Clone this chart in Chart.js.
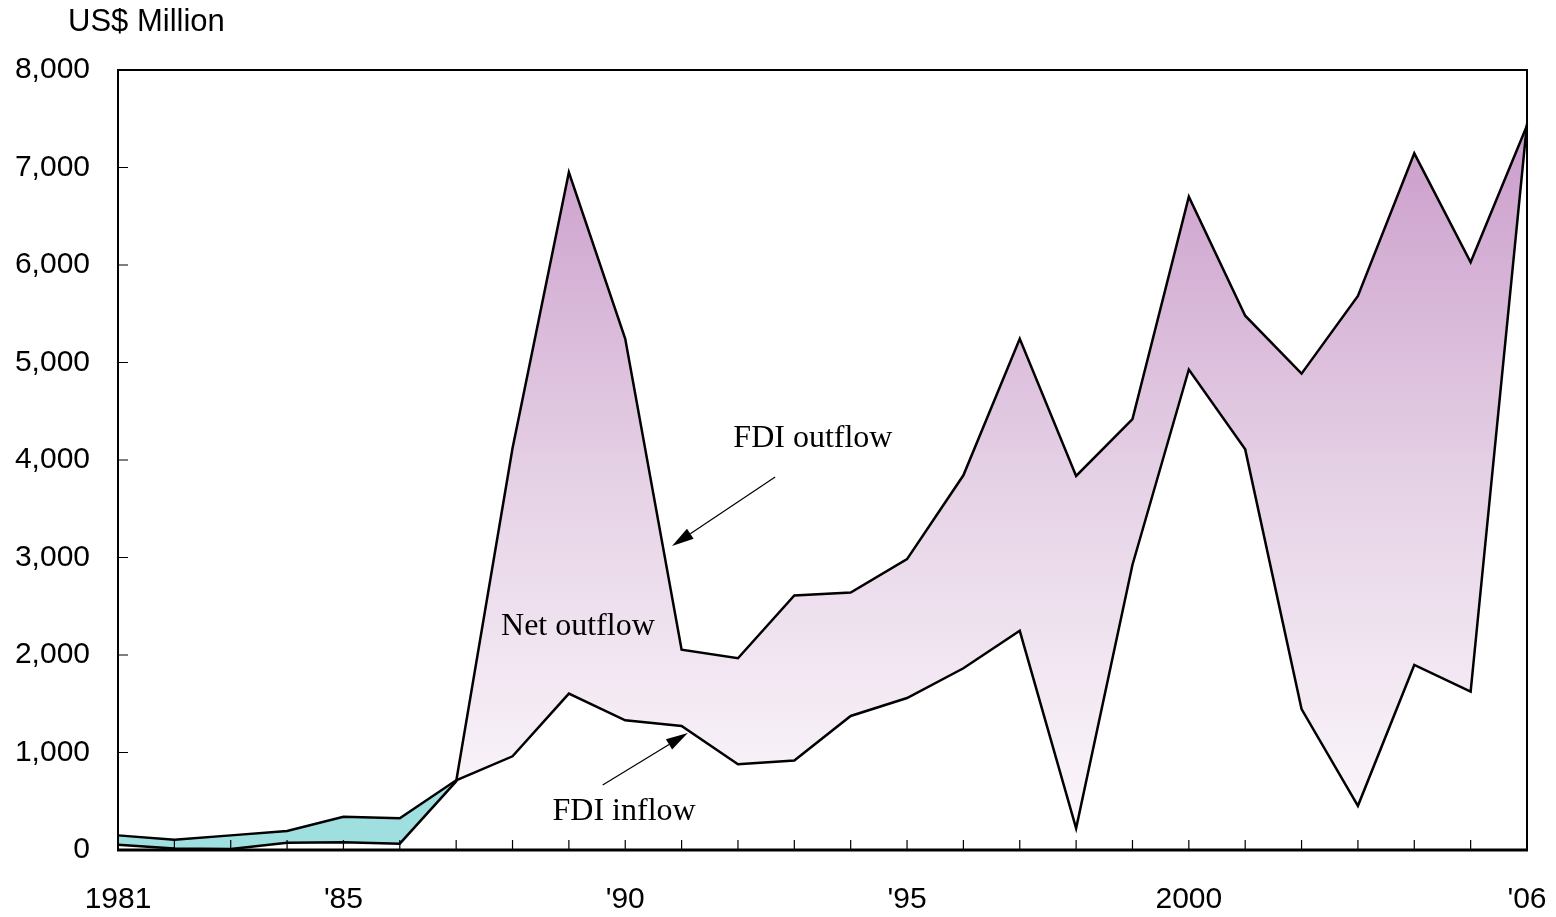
<!DOCTYPE html>
<html>
<head>
<meta charset="utf-8">
<script src="https://cdn.jsdelivr.net/npm/chart.js@4.4.1/dist/chart.umd.min.js"></script>
<style>
  html, body { margin: 0; padding: 0; background: #fff; }
  #wrap { width: 1556px; height: 917px; position: relative; }
</style>
</head>
<body>
<div id="wrap"><canvas id="fdiChart"></canvas></div>
<script>
const years = ["1981", "1982", "1983", "1984", "1985", "1986", "1987", "1988", "1989", "1990",
  "1991", "1992", "1993", "1994", "1995", "1996", "1997", "1998", "1999", "2000",
  "2001", "2002", "2003", "2004", "2005", "2006"];

const fdiOutflow = [55, 15, 10, 75, 80, 65, 704, 4121, 6951, 5243,
  2055, 1967, 2611, 2640, 2983, 3843, 5243, 3836, 4420, 6701,
  5480, 4886, 5682, 7145, 6028, 7430];

const fdiInflow = [150, 105, 150, 195, 340, 325, 715, 961, 1604, 1330,
  1271, 879, 917, 1375, 1559, 1864, 2248, 222, 2926, 4928,
  4109, 1445, 453, 1898, 1625, 7450];

const shownYears = ["1981", "1985", "1990", "1995", "2000", "2006"];
const shownLabels = ["1981", "'85", "'90", "'95", "2000", "'06"];

const yTicks = [0, 1000, 2000, 3000, 4000, 5000, 6000, 7000, 8000];

// annotation spots, in data units (x = year index, y = US$ million)
const notes = [
  { text: "FDI outflow", x: 12.33, y: 4215 },
  { text: "Net outflow", x: 8.16, y: 2287 },
  { text: "FDI inflow", x: 8.98, y: 390 },
];
const arrows = [
  { from: [11.66, 3826], to: [9.83, 3118] },
  { from: [8.6, 667], to: [10.11, 1200] },
];

const sansFont = "'Liberation Sans', Arial, sans-serif";
const serifFont = "'Liberation Serif', 'Times New Roman', serif";

function purpleFill(context) {
  const { chart } = context;
  const area = chart.chartArea;
  if (!area) return "#ddc0dd";
  const g = chart.ctx.createLinearGradient(0, area.top + 60, 0, area.bottom);
  g.addColorStop(0, "#cb9dcb");
  g.addColorStop(0.5, "#e6d3e6");
  g.addColorStop(1, "#fdfafd");
  return g;
}

const framePlugin = {
  id: "frame",
  afterDraw(chart) {
    const { ctx, chartArea: a, scales } = chart;
    ctx.save();
    ctx.strokeStyle = "#000";
    ctx.lineWidth = 2;
    ctx.strokeRect(a.left, a.top, a.right - a.left, a.bottom - a.top);
    ctx.lineWidth = 3;
    ctx.beginPath();
    ctx.moveTo(a.left - 1, a.bottom);
    ctx.lineTo(a.right + 1, a.bottom);
    ctx.stroke();

    // inward tick marks
    ctx.lineWidth = 1.2;
    ctx.beginPath();
    years.forEach((y, i) => {
      const px = scales.x.getPixelForValue(i);
      ctx.moveTo(px, a.bottom);
      ctx.lineTo(px, a.bottom - 10);
    });
    yTicks.forEach((v) => {
      const py = scales.y.getPixelForValue(v);
      ctx.moveTo(a.left, py);
      ctx.lineTo(a.left + 10, py);
    });
    ctx.stroke();

    // unit label
    ctx.fillStyle = "#000";
    ctx.font = "31px " + sansFont;
    ctx.textAlign = "left";
    ctx.textBaseline = "middle";
    ctx.fillText("US$ Million", 68, 22);

    // annotations
    ctx.font = "32px " + serifFont;
    ctx.textAlign = "center";
    notes.forEach((n) => {
      ctx.fillText(n.text, scales.x.getPixelForValue(n.x), scales.y.getPixelForValue(n.y));
    });

    arrows.forEach((ar) => {
      const x1 = scales.x.getPixelForValue(ar.from[0]);
      const y1 = scales.y.getPixelForValue(ar.from[1]);
      const x2 = scales.x.getPixelForValue(ar.to[0]);
      const y2 = scales.y.getPixelForValue(ar.to[1]);
      const ang = Math.atan2(y2 - y1, x2 - x1);
      const len = 22;
      const half = 6;
      const bx = x2 - len * Math.cos(ang);
      const by = y2 - len * Math.sin(ang);
      ctx.lineWidth = 1.2;
      ctx.beginPath();
      ctx.moveTo(x1, y1);
      ctx.lineTo(bx, by);
      ctx.stroke();
      ctx.beginPath();
      ctx.moveTo(x2, y2);
      ctx.lineTo(bx + half * Math.sin(ang), by - half * Math.cos(ang));
      ctx.lineTo(bx - half * Math.sin(ang), by + half * Math.cos(ang));
      ctx.closePath();
      ctx.fill();
    });
    ctx.restore();
  },
};

new Chart(document.getElementById("fdiChart"), {
  type: "line",
  data: {
    labels: years,
    datasets: [
      {
        label: "FDI outflow",
        data: fdiOutflow,
        borderColor: "#000",
        borderWidth: 2.5,
        pointRadius: 0,
        tension: 0,
        fill: { target: 1, above: purpleFill, below: "#a0dfdf" },
      },
      {
        label: "FDI inflow",
        data: fdiInflow,
        borderColor: "#000",
        borderWidth: 2.5,
        pointRadius: 0,
        tension: 0,
        fill: false,
      },
    ],
  },
  options: {
    responsive: true,
    maintainAspectRatio: false,
    animation: false,
    layout: { padding: { top: 70, right: 29, left: 0, bottom: 0 } },
    plugins: {
      legend: { display: false },
      tooltip: { enabled: false },
      filler: { drawTime: "beforeDatasetsDraw" },
    },
    scales: {
      x: {
        offset: false,
        grid: { display: false, drawTicks: false },
        border: { display: false },
        afterFit(scale) {
          scale.height = 67;
          scale.paddingLeft = 0;
          scale.paddingRight = 0;
        },
        ticks: {
          autoSkip: false,
          maxRotation: 0,
          padding: 32,
          color: "#000",
          font: { family: sansFont, size: 30 },
          callback(value) {
            const k = shownYears.indexOf(years[value]);
            return k >= 0 ? shownLabels[k] : "";
          },
        },
      },
      y: {
        min: 0,
        max: 8000,
        grid: { display: false, drawTicks: false },
        border: { display: false },
        afterFit(scale) {
          scale.width = 118;
          scale.paddingTop = 0;
          scale.paddingBottom = 0;
        },
        ticks: {
          stepSize: 1000,
          padding: 28,
          color: "#000",
          font: { family: sansFont, size: 30 },
          callback: (v) => v.toLocaleString("en-US"),
        },
      },
    },
  },
  plugins: [framePlugin],
});
</script>
</body>
</html>
